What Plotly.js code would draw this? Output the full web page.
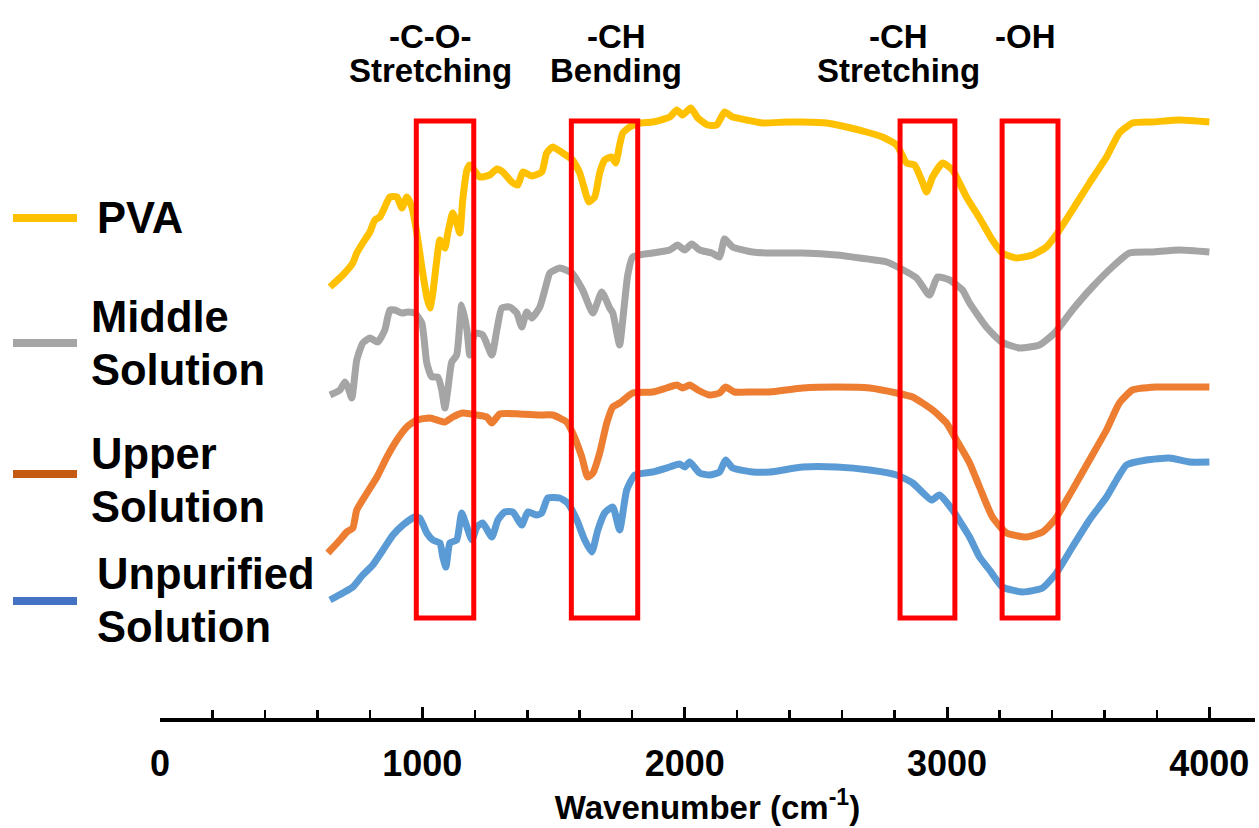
<!DOCTYPE html>
<html>
<head>
<meta charset="utf-8">
<script src="https://cdn.plot.ly/plotly-3.0.1.min.js"></script>
<style>html,body{margin:0;padding:0;background:#fff;}#chart{width:1259px;height:828px;}</style>
</head>
<body>
<div id="chart"></div>
<script>
// ---- Data (wavenumber in cm-1, offset transmittance in arbitrary units) ----
const wnPVA = [648,697,735,750,773,800,819,838,857,876,
  903,922,941,960,979,998,1017,1029,1040,1055,
  1067,1086,1097,1116,1131,1143,1154,1170,1181,1219,
  1257,1284,1307,1341,1364,1383,1417,1455,1474,1497,
  1535,1573,1600,1619,1634,1657,1676,1695,1722,1737,
  1752,1764,1790,1829,1878,1943,1970,1992,2023,2050,
  2088,2122,2152,2183,2236,2297,2389,2450,2541,2617,
  2693,2754,2808,2846,2876,2903,2922,2945,2983,3021,
  3074,3124,3173,3211,3265,3326,3379,3421,3478,3543,
  3608,3657,3707,3783,3886,4000];
const tPVA = [431,443,455,465,475,486,498,501,511,521,
  521,510,521,511,485,451,421,410,425,458,
  478,470,485,505,495,485,518,548,553,541,
  543,549,546,536,533,546,542,546,565,571,
  565,558,545,528,516,521,545,558,561,555,
  573,585,591,595,596,601,608,603,610,600,
  593,593,606,601,598,595,596,596,595,591,
  586,581,573,555,553,538,526,541,555,548,
  521,500,478,465,460,463,471,485,508,535,
  561,585,595,596,598,596];

const wnMiddle = [648,686,705,716,731,750,773,800,830,857,
  876,895,922,945,971,998,1017,1036,1059,1074,
  1086,1097,1112,1131,1150,1170,1181,1200,1230,1265,
  1284,1303,1333,1360,1379,1398,1417,1448,1474,1486,
  1524,1570,1611,1650,1684,1714,1726,1752,1764,1783,
  1802,1878,1943,1973,2000,2027,2057,2103,2133,2152,
  2183,2259,2324,2450,2579,2667,2770,2819,2884,2933,
  2964,3010,3059,3086,3150,3208,3276,3352,3410,3478,
  3554,3630,3695,3783,3886,4000];
const tMiddle = [323,328,336,331,320,358,375,380,376,388,
  408,408,405,406,405,395,355,341,341,328,
  310,328,356,363,413,388,363,385,383,363,
  388,410,411,405,391,406,400,411,435,445,
  450,445,428,405,426,410,405,373,398,443,
  461,465,468,473,468,474,468,465,461,479,
  471,466,465,465,463,460,456,450,440,423,
  441,438,428,415,391,376,370,373,385,408,
  431,451,465,466,468,466];

const wnUpper = [640,686,712,735,750,789,827,865,903,941,
  979,1029,1086,1116,1154,1208,1246,1265,1295,1371,
  1448,1497,1550,1573,1608,1630,1650,1676,1703,1726,
  1752,1802,1878,1931,1970,1992,2019,2050,2095,2133,
  2156,2190,2259,2324,2450,2579,2705,2808,2869,2945,
  2998,3036,3086,3124,3173,3227,3303,3364,3410,3478,
  3543,3608,3657,3707,3798,3886,4000];
const tUpper = [165,178,186,190,208,225,241,261,278,291,
  298,300,296,301,305,303,301,295,304,304,
  303,303,296,285,261,241,245,265,295,311,
  315,325,326,330,333,330,333,328,323,325,
  331,326,326,326,330,331,330,325,321,308,
  295,278,255,231,201,185,181,186,198,228,
  258,288,315,328,331,331,331];

const wnUnpurified = [648,697,735,773,811,850,888,926,971,990,
  1017,1040,1067,1078,1090,1105,1131,1150,1170,1189,
  1208,1230,1265,1288,1314,1345,1379,1402,1436,1455,
  1478,1524,1554,1589,1619,1646,1669,1695,1726,1752,
  1779,1810,1878,1943,1981,2000,2019,2057,2095,2133,
  2156,2183,2259,2324,2450,2579,2705,2808,2869,2941,
  2971,3021,3086,3124,3162,3211,3288,3364,3417,3478,
  3543,3608,3646,3684,3760,3848,3924,4000];
const tUnpurified = [118,125,131,143,153,168,183,193,201,200,
  185,178,175,161,151,175,178,205,191,178,
  191,195,181,198,206,206,193,206,203,205,
  220,220,215,198,178,166,188,205,211,188,
  228,243,246,251,254,251,256,245,243,246,
  258,250,246,246,251,251,248,243,235,218,
  223,208,181,161,148,131,126,130,145,171,
  198,221,238,253,258,260,256,256];

// Highlighted bands (cm-1)
const bandStart = [977, 1568, 2821, 3210];
const bandEnd   = [1196, 1821, 3030, 3423];
const bandLabels = [["-C-O-", "Stretching"], ["-CH", "Bending"], ["-CH", "Stretching"], ["-OH"]];

const seriesNames = ["PVA", "Middle Solution", "Upper Solution", "Unpurified Solution"];
const legendLines = [["PVA"], ["Middle", "Solution"], ["Upper", "Solution"], ["Unpurified", "Solution"]];
const tickVals = [0, 1000, 2000, 3000, 4000];

// ---- Styling ----
const W = 1259, H = 828;
const FONT = "Liberation Sans, Arial, Helvetica, sans-serif";
const lineColors = ["#FFC000", "#A5A5A5", "#ED7D31", "#5B9BD5"];
const legendColors = ["#FFC000", "#A5A5A5", "#C55A11", "#4472C4"];
const px = x => x / W;
const py = y => 1 - y / H;

const xs = [wnPVA, wnMiddle, wnUpper, wnUnpurified];
const ys = [tPVA, tMiddle, tUpper, tUnpurified];

const traces = xs.map((x, i) => ({
  type: "scatter", mode: "lines", name: seriesNames[i],
  x: x, y: ys[i],
  line: {color: lineColors[i], width: 7, shape: "spline", smoothing: 0.5},
  showlegend: false, hoverinfo: "skip"
}));

const shapes = [];
const annotations = [];

bandStart.forEach((s, i) => {
  shapes.push({type: "rect", xref: "x", yref: "y", x0: s, x1: bandEnd[i], y0: 100, y1: 597,
    line: {color: "#FF0000", width: 5}, fillcolor: "rgba(0,0,0,0)", layer: "above"});
});

// band label positions (pixel)
const labelX = [430, 616, 898, 1025];
const labelY = [37, 70];
bandLabels.forEach((lines, i) => {
  lines.forEach((t, j) => {
    annotations.push({xref: "paper", yref: "paper", x: px(labelX[i]), y: py(labelY[j]),
      xanchor: "center", yanchor: "middle", showarrow: false, text: "<b>" + t + "</b>",
      font: {family: FONT, size: 33, color: "#000"}});
  });
});

// custom legend
const swatchY = [218, 343, 474, 601];
const textX = [95, 89, 89, 95];
const textY = [[218], [317, 370], [454, 507], [574, 627]];
legendLines.forEach((lines, i) => {
  shapes.push({type: "line", xref: "paper", yref: "paper", x0: px(13), x1: px(77),
    y0: py(swatchY[i]), y1: py(swatchY[i]), line: {color: legendColors[i], width: 8}});
  lines.forEach((t, j) => {
    annotations.push({xref: "paper", yref: "paper", x: px(textX[i]), y: py(textY[i][j]),
      xanchor: "left", yanchor: "middle", showarrow: false, text: "<b>" + t + "</b>",
      font: {family: FONT, size: 43.5, color: "#000"}});
  });
});

const layout = {
  width: W, height: H,
  margin: {l: 0, r: 0, t: 0, b: 0},
  paper_bgcolor: "#fff", plot_bgcolor: "#fff",
  showlegend: false,
  font: {family: FONT, color: "#000"},
  xaxis: {
    domain: [px(160), px(1255)],
    range: [0, 4174],
    showgrid: false, zeroline: false,
    showline: true, linecolor: "#000", linewidth: 4,
    tickmode: "array", tickvals: tickVals,
    ticks: "inside", ticklen: 11, tickwidth: 3, tickcolor: "#000",
    minor: {dtick: 200, tick0: 0, ticks: "inside", ticklen: 8, tickwidth: 2.5, tickcolor: "#000", showgrid: false},
    tickfont: {family: FONT, size: 36, color: "#000", weight: "bold"},
    ticklabelstandoff: 11,
    title: {text: "<b>Wavenumber (cm<sup>-1</sup>)</b>", font: {family: FONT, size: 33, color: "#000"}, standoff: 0},
    fixedrange: true
  },
  yaxis: {
    domain: [110 / H, 1],
    range: [0, 718],
    visible: false, fixedrange: true
  },
  shapes: shapes,
  annotations: annotations
};

Plotly.newPlot("chart", traces, layout, {displayModeBar: false, staticPlot: true});
</script>
</body>
</html>
